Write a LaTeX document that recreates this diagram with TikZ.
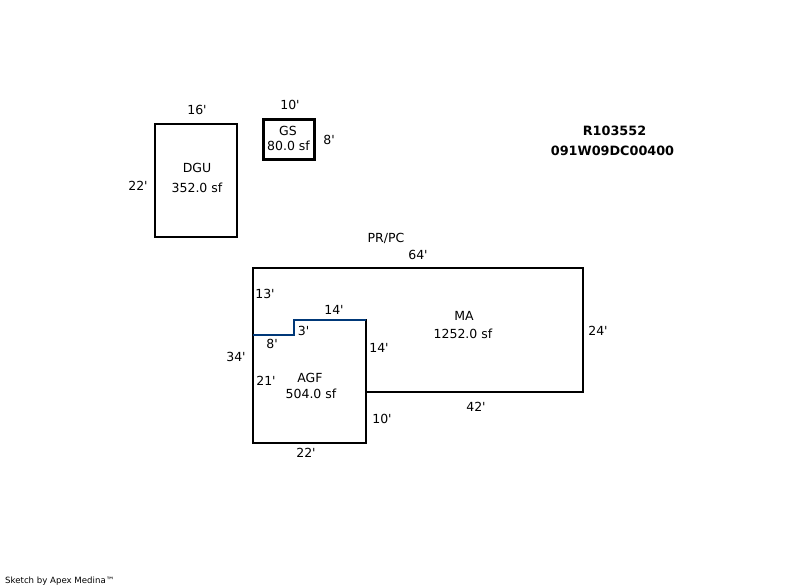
\documentclass[tikz,border=0pt]{standalone}
\usepackage{fontspec}
\setmainfont{DejaVu Sans}[Ligatures=TeXOff]
\definecolor{wallblue}{RGB}{0,56,120}
\tikzset{
  wall/.style={draw=black,line width=2pt,line cap=rect,line join=miter},
  heavywall/.style={draw=black,line width=3pt,line join=miter},
  sharedwall/.style={draw=wallblue,line width=2pt},
  lbl/.style={inner sep=0pt,font=\fontsize{12.5}{14}\selectfont,text=black},
  idlbl/.style={inner sep=0pt,font=\fontsize{12.8}{15}\selectfont\bfseries,text=black},
  foot/.style={inner sep=0pt,anchor=west,font=\fontsize{8.6}{10}\selectfont,text=black}
}
\begin{document}
\begin{tikzpicture}[x=1pt,y=-1pt]
\useasboundingbox (0,0) rectangle (802,588);
% shapes
\draw[wall] (155,124) rectangle (237,237);
\draw[heavywall] (263.5,119.5) rectangle (314.5,160);
\draw[wall] (253,335) -- (253,268) -- (583,268) -- (583,392) -- (366,392);
\draw[wall] (253,335) -- (253,443) -- (366,443) -- (366,320);
\draw[sharedwall] (253,335) -- (293.5,335) -- (293.5,320) -- (366,320);
% DGU
\node[lbl] (n16) at (197,110) {16'};
\node[lbl] (n22a) at (138,186) {22'};
\node[lbl] (dgu) at (197,168) {DGU};
\node[lbl] (dgua) at (197,188) {352.0 sf};
% GS
\node[lbl] (n10a) at (290,104.5) {10'};
\node[lbl] (n8a) at (329,140) {8'};
\node[lbl] (gs) at (288,131) {GS};
\node[lbl] (gsa) at (288.5,146) {80.0 sf};
% ids
\node[idlbl] (rid) at (614.5,131) {R103552};
\node[idlbl] (pid) at (612.5,151) {091W09DC00400};
% main
\node[lbl] (prpc) at (386,238) {PR/PC};
\node[lbl] (n64) at (418,255) {64'};
\node[lbl] (n13) at (265,294) {13'};
\node[lbl] (n14a) at (334,310) {14'};
\node[lbl] (n3) at (303.5,331) {3'};
\node[lbl] (n8b) at (272,344) {8'};
\node[lbl] (n34) at (236,357) {34'};
\node[lbl] (n21) at (266,381) {21'};
\node[lbl] (n14b) at (379,348) {14'};
\node[lbl] (n24) at (598,331) {24'};
\node[lbl] (n42) at (476,407) {42'};
\node[lbl] (n10b) at (382,419) {10'};
\node[lbl] (n22b) at (306,453) {22'};
\node[lbl] (ma) at (464,316) {MA};
\node[lbl] (maa) at (463,334) {1252.0 sf};
\node[lbl] (agf) at (310,378) {AGF};
\node[lbl] (agfa) at (311,394) {504.0 sf};
\node[foot] (sk) at (5,581) {Sketch by Apex Medina™};
\end{tikzpicture}
\end{document}
